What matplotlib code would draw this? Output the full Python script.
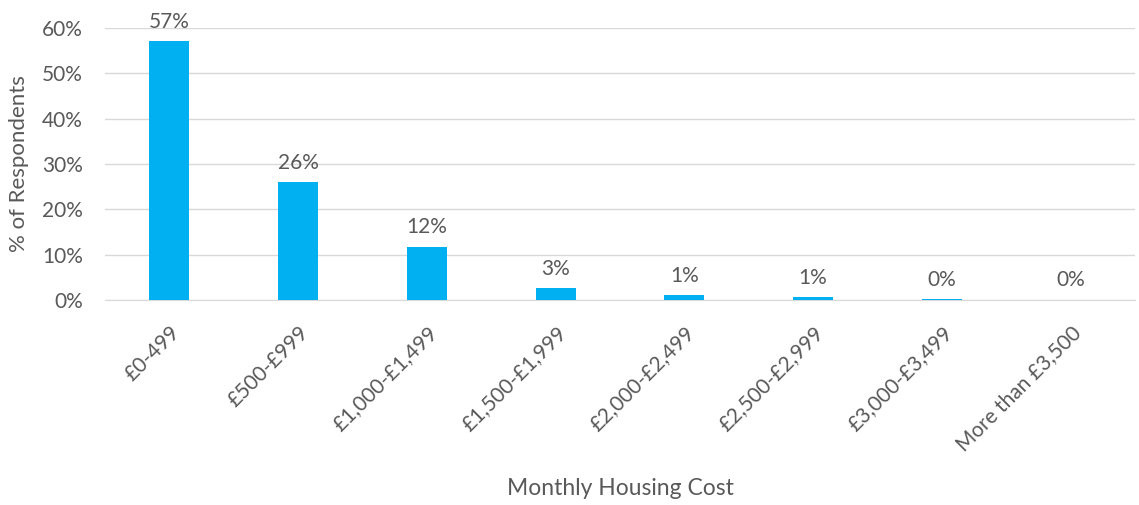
import matplotlib.pyplot as plt
from matplotlib.ticker import PercentFormatter

categories = ['£0-499', '£500-£999', '£1,000-£1,499', '£1,500-£1,999',
              '£2,000-£2,499', '£2,500-£2,999', '£3,000-£3,499', 'More than £3,500']
values = [57.1, 26.0, 11.8, 2.7, 1.0, 0.6, 0.2, 0.1]
labels = ['57%', '26%', '12%', '3%', '1%', '1%', '0%', '0%']

plt.rcParams['font.family'] = ['Lato', 'DejaVu Sans']
grey = '#595959'

fig = plt.figure(figsize=(11.39, 5.05), dpi=100)
ax = fig.add_axes([105 / 1139, 1 - 300 / 505, 1030 / 1139, 272 / 505])

x = range(len(categories))
ax.bar(x, values, width=0.31, color='#00b0f0', zorder=3)
for i, (v, lab) in enumerate(zip(values, labels)):
    ax.text(i, v + 2.0, lab, ha='center', va='bottom', fontsize=15, color=grey)

ax.set_xlim(-0.5, len(categories) - 0.5)
ax.set_ylim(0, 60)
ax.set_yticks(range(0, 61, 10))
ax.yaxis.set_major_formatter(PercentFormatter(decimals=0))
ax.grid(axis='y', color='#d9d9d9', linewidth=1, zorder=0)
for s in ['top', 'right', 'left']:
    ax.spines[s].set_visible(False)
ax.spines['bottom'].set_color('#d9d9d9')
ax.tick_params(axis='both', length=0, labelsize=15, colors=grey)
ax.tick_params(axis='y', pad=16)
ax.set_xticks(list(x))
ax.set_xticklabels(categories, rotation=45, ha='right', rotation_mode='anchor')
ax.tick_params(axis='x', pad=16)

ax.set_ylabel('% of Respondents', fontsize=16, color=grey, labelpad=9)
ax.set_xlabel('Monthly Housing Cost', fontsize=16.5, color=grey, labelpad=17)

fig.savefig('out.png', dpi=100)
